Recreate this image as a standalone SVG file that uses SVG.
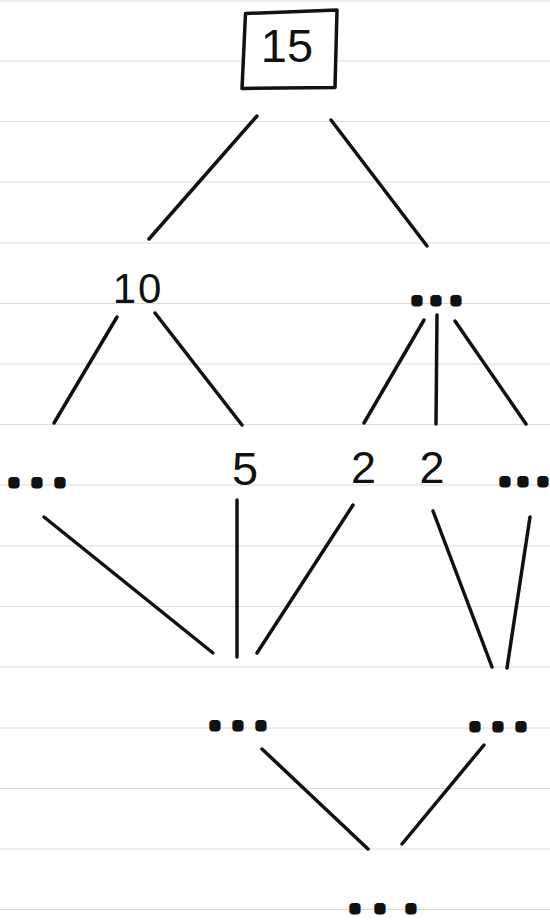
<svg xmlns="http://www.w3.org/2000/svg" width="550" height="922" viewBox="0 0 550 922">
<style>
.rule{stroke:#d9d9d9;stroke-width:1.1;fill:none}
.edge{stroke:#111;stroke-width:3.5;stroke-linecap:round;fill:none}
.box{stroke:#111;stroke-width:3.5;stroke-linejoin:round;fill:#fff}
.num{font-family:"Liberation Sans",Arial,sans-serif;fill:#111;text-anchor:middle}
.dots{font-family:"Liberation Sans",Arial,sans-serif;font-weight:bold;font-size:30px;fill:#111;stroke:#111;stroke-width:7;stroke-linejoin:round;text-anchor:middle}
</style>
<rect width="550" height="922" fill="#fff"/>
<g id="paper">
<line class="rule" x1="0" y1="1" x2="550" y2="1"/>
<line class="rule" x1="0" y1="61" x2="550" y2="61"/>
<line class="rule" x1="0" y1="121.5" x2="550" y2="121.5"/>
<line class="rule" x1="0" y1="182" x2="550" y2="182"/>
<line class="rule" x1="0" y1="243" x2="550" y2="243"/>
<line class="rule" x1="0" y1="303.5" x2="550" y2="303.5"/>
<line class="rule" x1="0" y1="364" x2="550" y2="364"/>
<line class="rule" x1="0" y1="424.5" x2="550" y2="424.5"/>
<line class="rule" x1="0" y1="485" x2="550" y2="485"/>
<line class="rule" x1="0" y1="546" x2="550" y2="546"/>
<line class="rule" x1="0" y1="606.5" x2="550" y2="606.5"/>
<line class="rule" x1="0" y1="667" x2="550" y2="667"/>
<line class="rule" x1="0" y1="728" x2="550" y2="728"/>
<line class="rule" x1="0" y1="788.5" x2="550" y2="788.5"/>
<line class="rule" x1="0" y1="849" x2="550" y2="849"/>
<line class="rule" x1="0" y1="909.5" x2="550" y2="909.5"/>
</g>
<g id="connectors">
<line class="edge" x1="257" y1="116" x2="149" y2="239"/>
<line class="edge" x1="331" y1="120" x2="427" y2="246"/>
<line class="edge" x1="117" y1="317" x2="54" y2="423"/>
<line class="edge" x1="155" y1="313" x2="242" y2="425"/>
<line class="edge" x1="424" y1="320" x2="364" y2="423"/>
<line class="edge" x1="437" y1="315" x2="436" y2="424"/>
<line class="edge" x1="455" y1="321" x2="526" y2="424"/>
<line class="edge" x1="44" y1="517" x2="213" y2="653"/>
<line class="edge" x1="237" y1="500" x2="237" y2="657"/>
<line class="edge" x1="353" y1="505" x2="257" y2="653"/>
<line class="edge" x1="433" y1="511" x2="492" y2="667"/>
<line class="edge" x1="530" y1="517" x2="507" y2="668"/>
<line class="edge" x1="262" y1="749" x2="368" y2="849"/>
<line class="edge" x1="484" y1="745" x2="402" y2="844"/>
</g>
<g id="node-15">
<path class="box" d="M245.5,13.5 L337,10 L335,87.5 L242,88.5 Z"/>
<text class="num" x="287" y="62" font-size="47">15</text>
</g>
<g id="node-10">
<text class="num" x="138" y="303" font-size="42" letter-spacing="2">10</text>
</g>
<g id="node-dots-r2">
<text class="dots" x="417 436 456" y="303">...</text>
</g>
<g id="node-dots-l3">
<text class="dots" x="14 37 60" y="485">...</text>
</g>
<g id="node-5">
<text class="num" x="245" y="485" font-size="47">5</text>
</g>
<g id="node-2a">
<text class="num" x="363.5" y="483" font-size="45">2</text>
</g>
<g id="node-2b">
<text class="num" x="432" y="483" font-size="45">2</text>
</g>
<g id="node-dots-r3">
<text class="dots" x="505 523 543" y="484">...</text>
</g>
<g id="node-dots-l4">
<text class="dots" x="215 238 261" y="727.5">...</text>
</g>
<g id="node-dots-r4">
<text class="dots" x="475 498 521" y="728.5">...</text>
</g>
<g id="node-dots-5">
<text class="dots" x="355 380 411" y="911">...</text>
</g>
</svg>
